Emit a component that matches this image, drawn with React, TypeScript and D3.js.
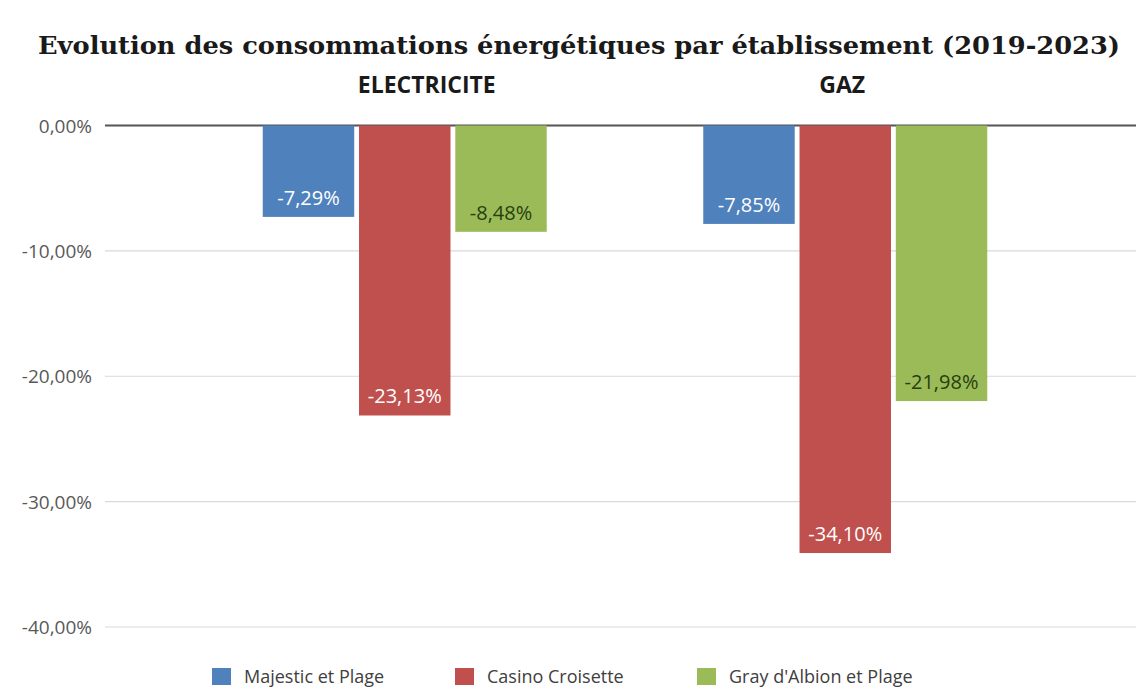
import React from "react";
import * as d3 from "d3";

const title = "Evolution des consommations énergétiques par établissement (2019-2023)";
const categories = ["ELECTRICITE", "GAZ"];
const series = ["Majestic et Plage", "Casino Croisette", "Gray d'Albion et Plage"];
const electricite = [-7.29, -23.13, -8.48];
const gaz = [-7.85, -34.1, -21.98];
const yTicks = [0, -10, -20, -30, -40];
const colors = ["#4F81BD", "#C0504D", "#9BBB59"];
const labelColors = ["#ffffff", "#ffffff", "#26400f"];

const W = 1136;
const H = 687;

const fmt = (v: number) => v.toFixed(2).replace(".", ",") + "%";

export default function App() {
  const values = [electricite, gaz];
  const y = d3.scaleLinear().domain([0, -40]).range([125.5, 627]);
  const x0 = d3.scaleBand<string>().domain(categories).range([184.5, 1065.5]).padding(0);
  const x1 = d3.scaleBand<string>().domain(series).range([-142, 142]).paddingInner(0.05);
  const headerOffset = [22, -3];
  const sans = "'Open Sans', 'Liberation Sans', sans-serif";

  const legendX = [212, 455, 697];

  return (
    <svg width={W} height={H} style={{ position: "absolute", left: 0, top: 0, background: "#fff" }}>
      <rect width={W} height={H} fill="#fff" />
      <text
        x={W / 2 + 11}
        y={54}
        textAnchor="middle"
        fontFamily="'DejaVu Serif', 'Liberation Serif', serif"
        fontWeight="bold"
        fontSize={24}
        fill="#1a1a1a"
        textLength={1082}
        lengthAdjust="spacingAndGlyphs"
      >
        {title}
      </text>
      {categories.map((c, i) => (
        <text
          key={c}
          x={(x0(c) as number) + x0.bandwidth() / 2 + headerOffset[i]}
          y={93}
          textAnchor="middle"
          fontFamily={sans}
          fontWeight="bold"
          fontSize={23}
          fill="#1a1a1a"
        >
          {c}
        </text>
      ))}
      {yTicks.map((t) => (
        <g key={t}>
          <line
            x1={105}
            x2={1136}
            y1={y(t)}
            y2={y(t)}
            stroke={t === 0 ? "#555" : "#d9d9d9"}
            strokeWidth={t === 0 ? 1.8 : 1.2}
          />
          <text
            x={92}
            y={y(t) + 7}
            textAnchor="end"
            fontFamily={sans}
            fontSize={19}
            fill="#595959"
          >
            {fmt(t)}
          </text>
        </g>
      ))}
      {categories.map((c, ci) => (
        <g key={c} transform={`translate(${(x0(c) as number) + x0.bandwidth() / 2},0)`}>
          {series.map((s, si) => {
            const v = values[ci][si];
            const bx = x1(s) as number;
            const bw = x1.bandwidth();
            return (
              <g key={s}>
                <rect x={bx} y={y(0)} width={bw} height={y(v) - y(0)} fill={colors[si]} />
                <text
                  x={bx + bw / 2}
                  y={y(v) - 12}
                  textAnchor="middle"
                  fontFamily={sans}
                  fontSize={20}
                  fill={labelColors[si]}
                >
                  {fmt(v)}
                </text>
              </g>
            );
          })}
        </g>
      ))}
      {series.map((s, i) => (
        <g key={s}>
          <rect x={legendX[i]} y={668} width={19} height={17} fill={colors[i]} />
          <text x={legendX[i] + 32} y={683} fontFamily={sans} fontSize={18} fill="#404040">
            {s}
          </text>
        </g>
      ))}
    </svg>
  );
}
